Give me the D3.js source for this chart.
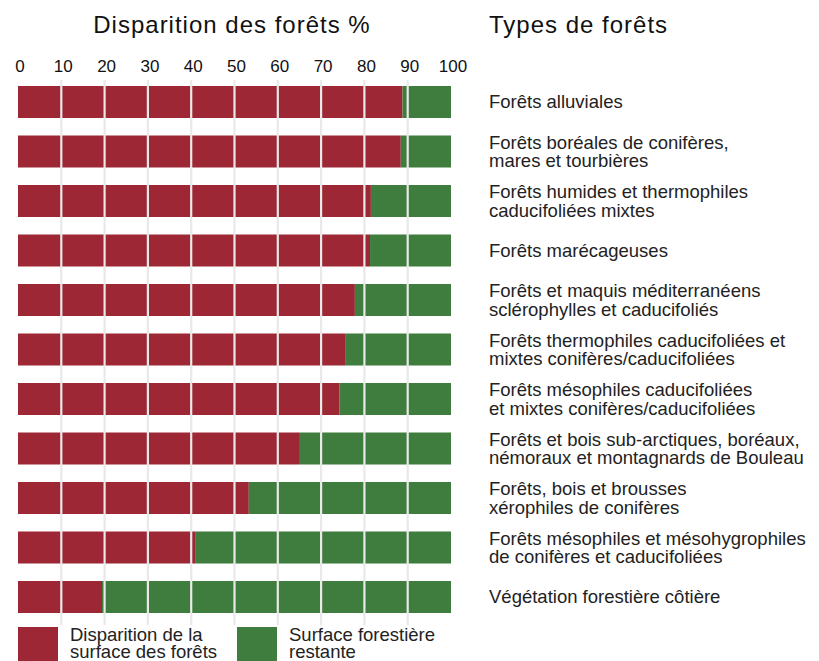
<!DOCTYPE html>
<html>
<head>
<meta charset="utf-8">
<script src="https://cdn.jsdelivr.net/npm/d3@7"></script>
<style>
  body { margin: 0; background: #fff; }
  svg { font-family: "Liberation Sans", Arial, Helvetica, sans-serif; }
</style>
</head>
<body>
<div id="chart"></div>
<script>
// Forest types (each entry = lines of the label)
var categories = [
    ["Forêts alluviales"],
    ["Forêts boréales de conifères,", "mares et tourbières"],
    ["Forêts humides et thermophiles", "caducifoliées mixtes"],
    ["Forêts marécageuses"],
    ["Forêts et maquis méditerranéens", "sclérophylles et caducifoliés"],
    ["Forêts thermophiles caducifoliées et", "mixtes conifères/caducifoliées"],
    ["Forêts mésophiles caducifoliées", "et mixtes conifères/caducifoliées"],
    ["Forêts et bois sub-arctiques, boréaux,", "némoraux et montagnards de Bouleau"],
    ["Forêts, bois et brousses", "xérophiles de conifères"],
    ["Forêts mésophiles et mésohygrophiles", "de conifères et caducifoliées"],
    ["Végétation forestière côtière"]
];

// Forest loss in % (the rest, up to 100, is remaining forest)
var lost = [88.8, 88.4, 81.5, 81.3, 77.8, 75.7, 74.2, 65.1, 53.3, 40.9, 19.4];

var ticks = [0, 10, 20, 30, 40, 50, 60, 70, 80, 90, 100];

var legendLabels = [
    ["Disparition de la", "surface des forêts"],
    ["Surface forestière", "restante"]
];

var red = "#9d2735",
    green = "#3e7d3d";

var width = 819, height = 661;

var svg = d3.select("#chart")
    .append("svg")
    .attr("width", width)
    .attr("height", height);

var x = d3.scaleLinear()
    .domain([0, 100])
    .range([18, 451]);

var y = d3.scaleBand()
    .domain(d3.range(categories.length))
    .range([86, 613])
    .paddingInner(17.5 / 49.5)
    .paddingOuter(0);

// Titles
svg.append("text")
    .attr("x", 232)
    .attr("y", 33)
    .attr("text-anchor", "middle")
    .style("font-size", "24px")
    .style("letter-spacing", "1px")
    .style("fill", "#111")
    .text("Disparition des forêts %");

svg.append("text")
    .attr("x", 489)
    .attr("y", 33)
    .style("font-size", "24px")
    .style("letter-spacing", "1px")
    .style("fill", "#111")
    .text("Types de forêts");

// Top axis, labels only
var axis = svg.append("g")
    .attr("transform", "translate(0,72)")
    .call(d3.axisTop(x).tickValues(ticks).tickSize(0).tickPadding(0));
axis.select(".domain").remove();
axis.selectAll("text")
    .attr("dx", "1.5")
    .style("font-size", "17px")
    .style("font-family", "\"Liberation Sans\", Arial, sans-serif")
    .style("fill", "#111");

// Bars: lost part (red) and remaining part (green)
var rows = svg.append("g")
    .selectAll("g")
    .data(lost)
    .enter().append("g");

rows.append("rect")
    .attr("x", x(0))
    .attr("y", function(d, i) { return y(i); })
    .attr("width", function(d) { return x(d) - x(0); })
    .attr("height", y.bandwidth())
    .style("fill", red);

rows.append("rect")
    .attr("x", function(d) { return x(d); })
    .attr("y", function(d, i) { return y(i); })
    .attr("width", function(d) { return x(100) - x(d); })
    .attr("height", y.bandwidth())
    .style("fill", green);

// Vertical grid lines drawn over the bars
svg.append("g")
    .selectAll("line")
    .data(ticks.slice(1, -1))
    .enter().append("line")
    .attr("x1", function(d) { return x(d); })
    .attr("x2", function(d) { return x(d); })
    .attr("y1", 80)
    .attr("y2", 625)
    .style("stroke", "#e9e9e9")
    .style("stroke-width", 2.2);

// Category labels
svg.append("g")
    .selectAll("text")
    .data(categories)
    .enter().append("text")
    .attr("x", 489)
    .attr("y", function(d, i) {
        var c = y(i) + y.bandwidth() / 2;
        return d.length === 1 ? c + 6 : c - 3;
    })
    .style("font-size", "18.5px")
    .style("fill", "#222")
    .each(function(d) {
        var t = d3.select(this);
        d.forEach(function(line, k) {
            t.append("tspan")
                .attr("x", 489)
                .attr("dy", k === 0 ? 0 : 18.5)
                .text(line);
        });
    });

// Legend
var legend = svg.append("g")
    .selectAll("g")
    .data(legendLabels)
    .enter().append("g")
    .attr("transform", function(d, i) { return "translate(" + (18 + i * 219) + ",627)"; });

legend.append("rect")
    .attr("width", 40)
    .attr("height", 40)
    .style("fill", function(d, i) { return i === 0 ? red : green; });

legend.append("text")
    .attr("x", 52)
    .attr("y", 14)
    .style("font-size", "18.5px")
    .style("fill", "#222")
    .each(function(d) {
        var t = d3.select(this);
        d.forEach(function(line, k) {
            t.append("tspan")
                .attr("x", 52)
                .attr("dy", k === 0 ? 0 : 16.5)
                .text(line);
        });
    });
</script>
</body>
</html>
